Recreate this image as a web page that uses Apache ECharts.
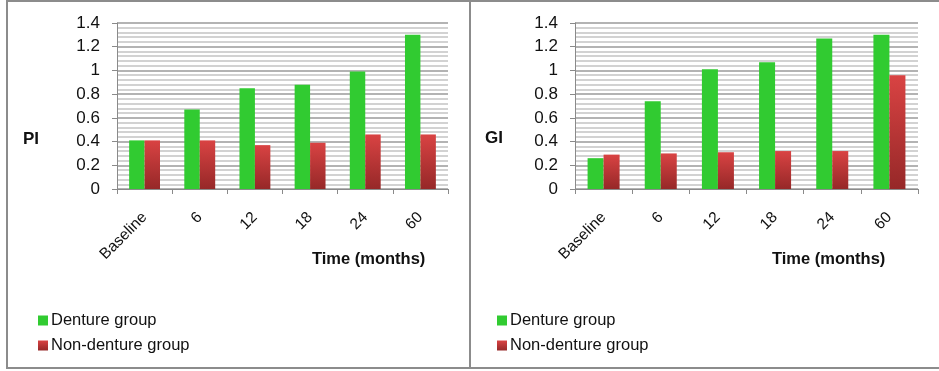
<!DOCTYPE html>
<html>
<head>
<meta charset="utf-8">
<script src="https://cdn.jsdelivr.net/npm/echarts@6/dist/echarts.min.js"></script>
<style>
  html, body { margin: 0; padding: 0; background: #fff; }
  #chart-container { width: 939px; height: 371px; }
</style>
</head>
<body>
<div id="chart-container"></div>
<script>
// categories and values
var categories = ['Baseline', '6', '12', '18', '24', '60'];
var piDenture = [0.41, 0.67, 0.85, 0.88, 0.99, 1.30];
var piNonDenture = [0.41, 0.41, 0.37, 0.39, 0.46, 0.46];
var giDenture = [0.26, 0.74, 1.01, 1.07, 1.27, 1.30];
var giNonDenture = [0.29, 0.30, 0.31, 0.32, 0.32, 0.96];

var font = 'Liberation Sans, Arial, sans-serif';
var green = '#31cb31';
var red = new echarts.graphic.LinearGradient(0, 0, 0, 1, [
    { offset: 0, color: '#d94343' },
    { offset: 1, color: '#962828' }
]);

var container = document.getElementById('chart-container');
var myChart = echarts.init(container);

function xAxisFor(gridIndex) {
    return {
        type: 'category',
        gridIndex: gridIndex,
        data: categories,
        axisLine: { lineStyle: { color: '#8a8a8a', width: 1 } },
        axisTick: { show: true, length: 5, lineStyle: { color: '#8a8a8a' } },
        axisLabel: { rotate: 45, margin: 26, color: '#111', fontSize: 15.5, fontFamily: font }
    };
}

function yAxisFor(gridIndex) {
    return {
        type: 'value',
        gridIndex: gridIndex,
        min: 0,
        max: 1.4,
        interval: 0.2,
        axisLine: { show: true, lineStyle: { color: '#8a8a8a', width: 1 } },
        axisTick: { show: true, length: 5, lineStyle: { color: '#8a8a8a' } },
        axisLabel: { margin: 17, color: '#111', fontSize: 17, fontFamily: font },
        splitLine: { show: true, lineStyle: { color: '#9a9a9a', width: 1.5 } },
        minorTick: { show: false, splitNumber: 5 },
        minorSplitLine: { show: true, lineStyle: { color: '#c4c4c4', width: 1.5 } }
    };
}

function legendFor(left) {
    return {
        left: left,
        top: 307,
        orient: 'vertical',
        icon: 'rect',
        itemWidth: 10,
        itemHeight: 10,
        itemGap: 8,
        selectedMode: false,
        textStyle: { fontSize: 16.5, color: '#111', fontFamily: font, padding: [0, 0, 0, -2] },
        data: ['Denture group', 'Non-denture group']
    };
}

function titleAt(text, left, top, size) {
    return {
        text: text,
        left: left,
        top: top,
        padding: 0,
        textStyle: { fontSize: size, fontWeight: 'bold', color: '#111', fontFamily: font }
    };
}

myChart.setOption({
    animation: false,
    title: [
        titleAt('PI', 23, 131, 17),
        titleAt('GI', 485, 130, 17),
        titleAt('Time (months)', 312, 251, 16.5),
        titleAt('Time (months)', 772, 251, 16.5)
    ],
    legend: [legendFor(33), legendFor(492)],
    grid: [
        { left: 117, top: 23, width: 331, height: 166 },
        { left: 575, top: 23, width: 343, height: 166 }
    ],
    xAxis: [xAxisFor(0), xAxisFor(1)],
    yAxis: [yAxisFor(0), yAxisFor(1)],
    series: [
        { name: 'Denture group', type: 'bar', xAxisIndex: 0, yAxisIndex: 0, data: piDenture,
          barGap: '0%', barCategoryGap: '44%', itemStyle: { color: green } },
        { name: 'Non-denture group', type: 'bar', xAxisIndex: 0, yAxisIndex: 0, data: piNonDenture,
          barGap: '0%', barCategoryGap: '44%', itemStyle: { color: red } },
        { name: 'Denture group', type: 'bar', xAxisIndex: 1, yAxisIndex: 1, data: giDenture,
          barGap: '0%', barCategoryGap: '44%', itemStyle: { color: green } },
        { name: 'Non-denture group', type: 'bar', xAxisIndex: 1, yAxisIndex: 1, data: giNonDenture,
          barGap: '0%', barCategoryGap: '44%', itemStyle: { color: red } }
    ],
    graphic: [
        // panel frames
        { type: 'rect', shape: { x: 7, y: 1, width: 463, height: 367 }, silent: true,
          style: { fill: null, stroke: '#8c8c8c', lineWidth: 2 } },
        { type: 'rect', shape: { x: 470, y: 1, width: 480, height: 367 }, silent: true,
          style: { fill: null, stroke: '#8c8c8c', lineWidth: 2 } }
    ]
});
</script>
</body>
</html>
